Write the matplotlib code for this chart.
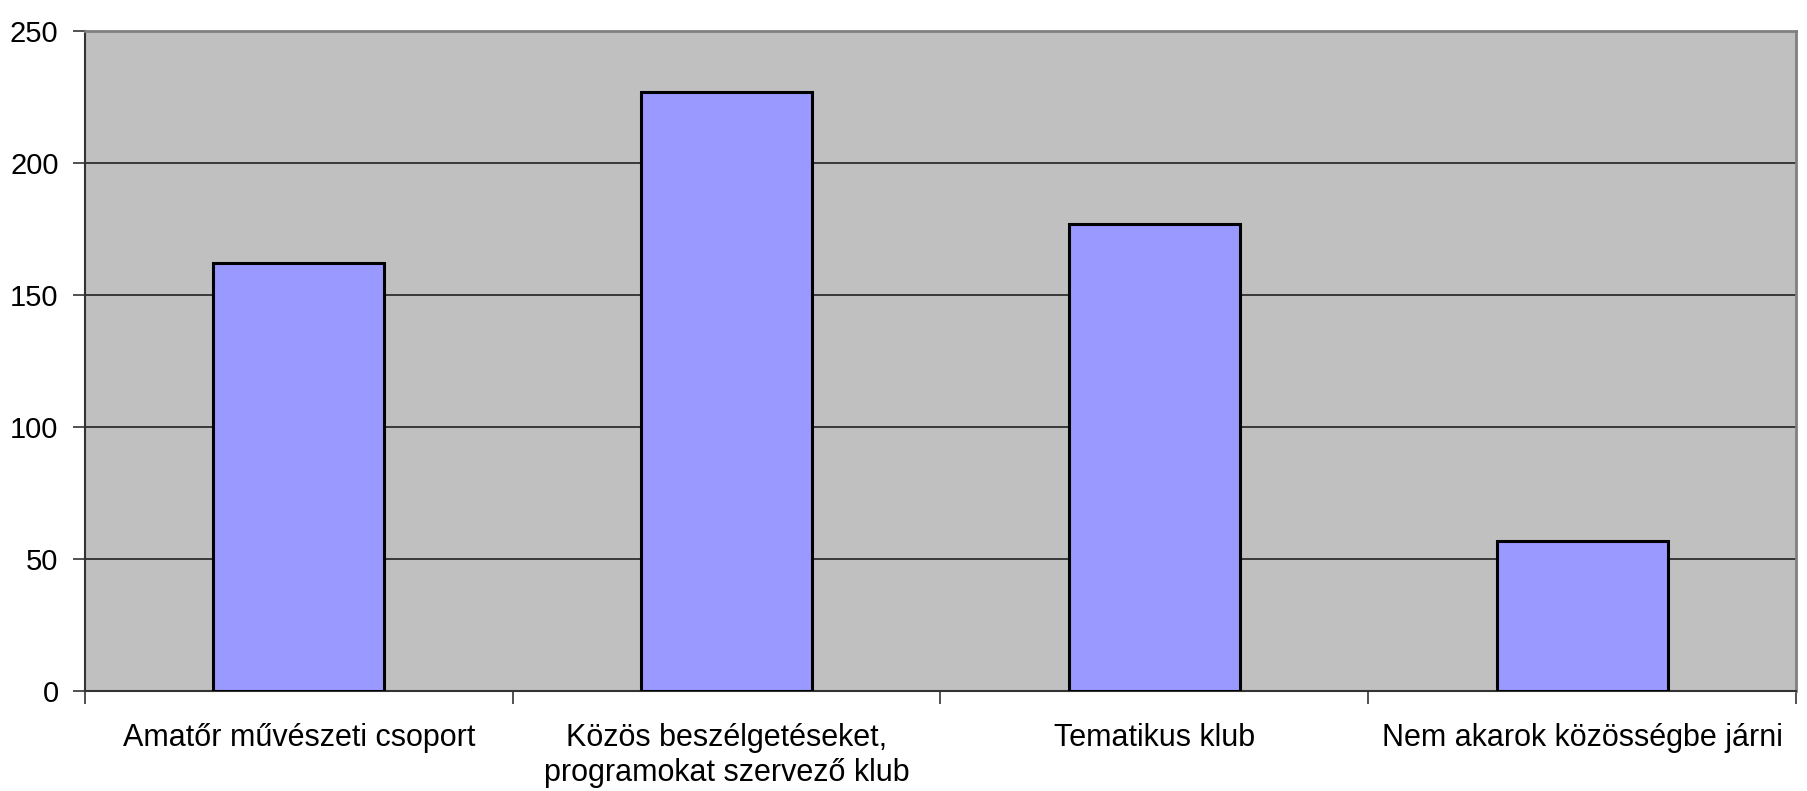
import matplotlib
matplotlib.use("Agg")
import matplotlib.pyplot as plt
from matplotlib.ticker import FixedLocator, NullFormatter

categories = ["Amatőr művészeti csoport",
              "Közös beszélgetéseket,\nprogramokat szervező klub",
              "Tematikus klub",
              "Nem akarok közösségbe járni"]
values = [162, 227, 177, 57]
yticks = [0, 50, 100, 150, 200, 250]

plt.rcParams['font.family'] = ['Liberation Sans', 'DejaVu Sans']

fig = plt.figure(figsize=(18.08, 7.91), dpi=100)
ax = fig.add_axes([85/1808, 1 - 691/791, (1796-85)/1808, (691-31)/791])
ax.set_facecolor('#C0C0C0')

x = list(range(len(categories)))
ax.bar(x, values, width=0.4, color='#9999FF', edgecolor='black', linewidth=2.2, zorder=3)

ax.set_xlim(-0.5, len(categories) - 0.5)
ax.set_ylim(0, 250)
ax.set_yticks(yticks)
ax.yaxis.grid(True, color='#222222', linewidth=1.2, zorder=1)
ax.set_axisbelow(True)

ax.set_xticks(x)
ax.set_xticklabels(categories, fontsize=22, linespacing=1.2)
ax.tick_params(axis='x', which='major', length=0, pad=23)
ax.xaxis.set_minor_locator(FixedLocator([i + 0.5 for i in range(-1, len(categories))]))
ax.xaxis.set_minor_formatter(NullFormatter())
ax.tick_params(axis='x', which='minor', length=9, width=1.2, color='#333333', direction='out')
ax.tick_params(axis='y', length=9, width=1.2, color='#333333', labelsize=21, pad=10)

for s in ['top', 'right']:
    ax.spines[s].set_color('#808080')
    ax.spines[s].set_linewidth(2)
for s in ['left', 'bottom']:
    ax.spines[s].set_color('#333333')
    ax.spines[s].set_linewidth(1.5)

fig.savefig('out.png', dpi=100, facecolor='white')
